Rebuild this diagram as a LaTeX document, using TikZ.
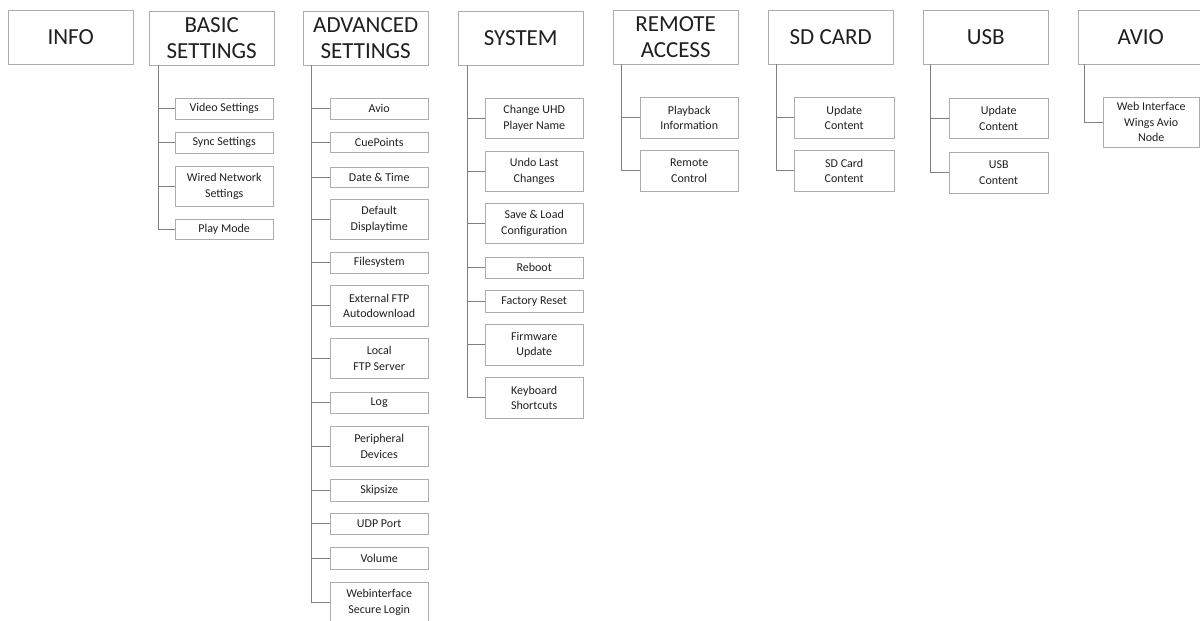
\documentclass[tikz,border=0pt]{standalone}
\usepackage{fontspec}
\setmainfont{Carlito}
\tikzset{
  menu/.style={draw=black!32, anchor=north west, minimum width=125pt, minimum height=54pt, align=center, inner sep=1pt, text=black!88, font=\fontsize{23}{26}\selectfont},
  item/.style={draw=black!32, anchor=north west, minimum width=98pt, align=center, inner sep=1pt, text=black!88, font=\fontsize{12}{15.5}\selectfont},
  link/.style={draw=black!50, line width=0.8pt}
}
\begin{document}
\begin{tikzpicture}[x=1pt,y=-1pt]
		\clip (0,0) rectangle (1200,621);
		% Top menus
		\node[menu] (info) at (8,10) {INFO};
		\node[menu] (basic) at (149,11) {BASIC\\SETTINGS};
		\node[menu] (adv) at (303,11) {ADVANCED\\SETTINGS};
		\node[menu] (sys) at (458,11) {SYSTEM};
		\node[menu] (remote) at (613,10) {REMOTE\\ACCESS};
		\node[menu] (sdcard) at (768,10) {SD CARD};
		\node[menu] (usb) at (923,10) {USB};
		\node[menu] (avio) at (1078,10) {AVIO};
		% Basic settings
		\node[item, minimum height=21pt] (bvideo) at (175,98) {Video Settings};
		\node[item, minimum height=21pt] (bsync) at (175,132) {Sync Settings};
		\node[item, minimum height=40pt] (bwired) at (175,166) {Wired Network\\Settings};
		\node[item, minimum height=20pt] (bplay) at (175,219) {Play Mode};
		\draw[link] ([xshift=9pt]basic.south west) |- (bvideo.west);
		\draw[link] ([xshift=9pt]basic.south west) |- (bsync.west);
		\draw[link] ([xshift=9pt]basic.south west) |- (bwired.west);
		\draw[link] ([xshift=9pt]basic.south west) |- (bplay.west);
		% Advanced settings
		\node[item, minimum height=21pt] (aavio) at (330,98) {Avio};
		\node[item, minimum height=20pt] (acue) at (330,132) {CuePoints};
		\node[item, minimum height=20pt] (adate) at (330,167) {Date \& Time};
		\node[item, minimum height=40pt] (adefault) at (330,199) {Default\\Displaytime};
		\node[item, minimum height=21pt] (afiles) at (330,252) {Filesystem};
		\node[item, minimum height=41pt] (aftp) at (330,285) {External FTP\\Autodownload};
		\node[item, minimum height=40pt] (alocal) at (330,338) {Local\\FTP Server};
		\node[item, minimum height=21pt] (alog) at (330,392) {Log};
		\node[item, minimum height=40pt] (aperiph) at (330,426) {Peripheral\\Devices};
		\node[item, minimum height=22pt] (askip) at (330,479) {Skipsize};
		\node[item, minimum height=21pt] (audp) at (330,513) {UDP Port};
		\node[item, minimum height=22pt] (avolume) at (330,547) {Volume};
		\node[item, minimum height=40pt] (aweb) at (330,582) {Webinterface\\Secure Login};
		\draw[link] ([xshift=8pt]adv.south west) |- (aavio.west);
		\draw[link] ([xshift=8pt]adv.south west) |- (acue.west);
		\draw[link] ([xshift=8pt]adv.south west) |- (adate.west);
		\draw[link] ([xshift=8pt]adv.south west) |- (adefault.west);
		\draw[link] ([xshift=8pt]adv.south west) |- (afiles.west);
		\draw[link] ([xshift=8pt]adv.south west) |- (aftp.west);
		\draw[link] ([xshift=8pt]adv.south west) |- (alocal.west);
		\draw[link] ([xshift=8pt]adv.south west) |- (alog.west);
		\draw[link] ([xshift=8pt]adv.south west) |- (aperiph.west);
		\draw[link] ([xshift=8pt]adv.south west) |- (askip.west);
		\draw[link] ([xshift=8pt]adv.south west) |- (audp.west);
		\draw[link] ([xshift=8pt]adv.south west) |- (avolume.west);
		\draw[link] ([xshift=8pt]adv.south west) |- (aweb.west);
		% System
		\node[item, minimum height=40pt] (sname) at (485,98) {Change UHD\\Player Name};
		\node[item, minimum height=40pt] (sundo) at (485,151) {Undo Last\\Changes};
		\node[item, minimum height=40pt] (ssave) at (485,203) {Save \& Load\\Configuration};
		\node[item, minimum height=21pt] (sreboot) at (485,257) {Reboot};
		\node[item, minimum height=22pt] (sreset) at (485,290) {Factory Reset};
		\node[item, minimum height=41pt] (sfirm) at (485,324) {Firmware\\Update};
		\node[item, minimum height=41pt] (skeys) at (485,377) {Keyboard\\Shortcuts};
		\draw[link] ([xshift=9pt]sys.south west) |- (sname.west);
		\draw[link] ([xshift=9pt]sys.south west) |- (sundo.west);
		\draw[link] ([xshift=9pt]sys.south west) |- (ssave.west);
		\draw[link] ([xshift=9pt]sys.south west) |- (sreboot.west);
		\draw[link] ([xshift=9pt]sys.south west) |- (sreset.west);
		\draw[link] ([xshift=9pt]sys.south west) |- (sfirm.west);
		\draw[link] ([xshift=9pt]sys.south west) |- (skeys.west);
		% Remote access
		\node[item, minimum height=41pt] (rplay) at (640,97) {Playback\\Information};
		\node[item, minimum height=41pt] (rcontrol) at (640,150) {Remote\\Control};
		\draw[link] ([xshift=8pt]remote.south west) |- (rplay.west);
		\draw[link] ([xshift=8pt]remote.south west) |- (rcontrol.west);
		% SD card
		\node[item, minimum height=41pt, minimum width=100pt] (dupdate) at (794,97) {Update\\Content};
		\node[item, minimum height=41pt, minimum width=100pt] (dcontent) at (794,150) {SD Card\\Content};
		\draw[link] ([xshift=8pt]sdcard.south west) |- (dupdate.west);
		\draw[link] ([xshift=8pt]sdcard.south west) |- (dcontent.west);
		% USB
		\node[item, minimum height=40pt, minimum width=99pt] (uupdate) at (949,98) {Update\\Content};
		\node[item, minimum height=41pt, minimum width=99pt] (ucontent) at (949,152) {USB\\Content};
		\draw[link] ([xshift=7pt]usb.south west) |- (uupdate.west);
		\draw[link] ([xshift=7pt]usb.south west) |- (ucontent.west);
		% Avio
		\node[item, minimum height=50pt, minimum width=96pt] (wnode) at (1103,97) {Web Interface\\Wings Avio\\Node};
		\draw[link] ([xshift=6pt]avio.south west) |- (wnode.west);
\end{tikzpicture}
\end{document}
